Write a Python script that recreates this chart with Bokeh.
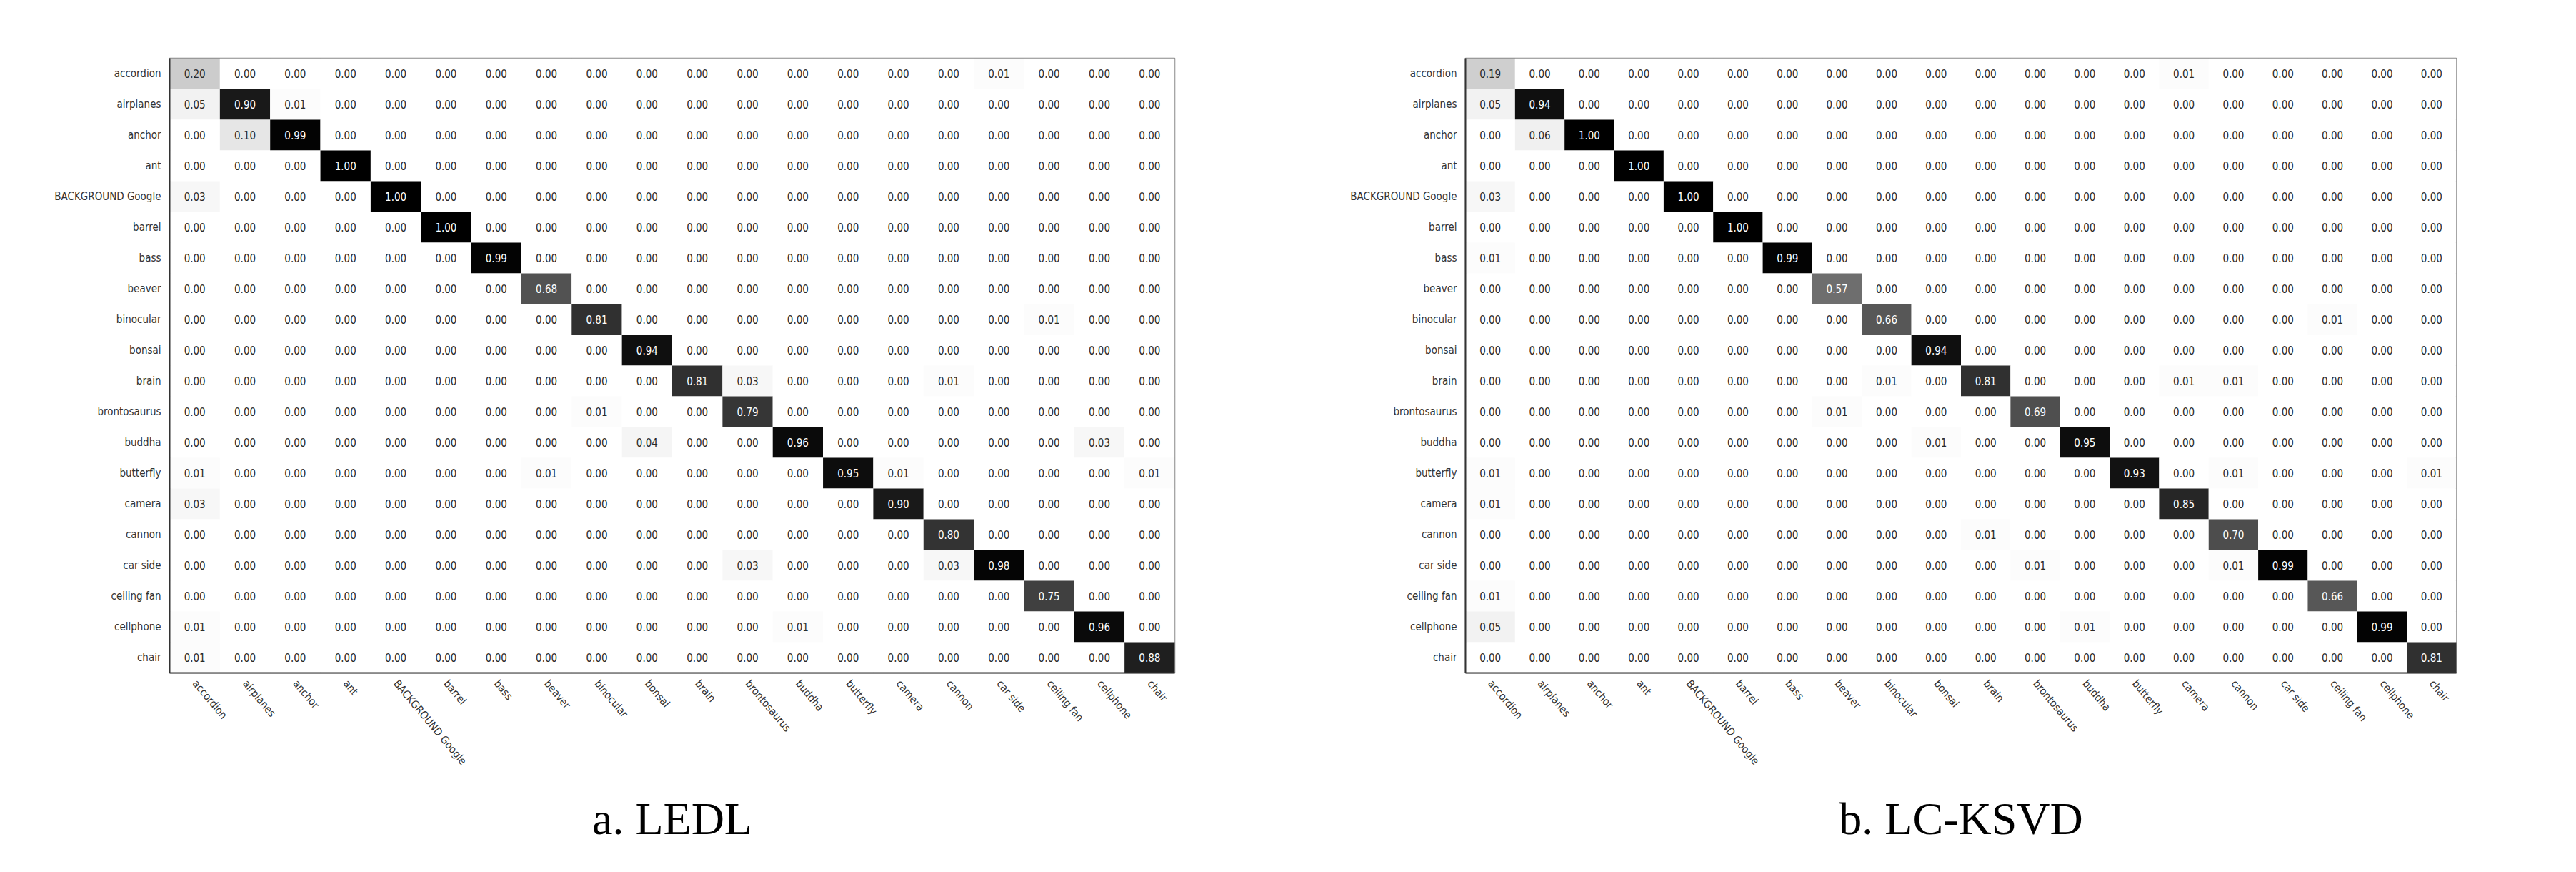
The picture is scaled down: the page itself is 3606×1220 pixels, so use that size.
import math
from bokeh.plotting import figure
from bokeh.models import FactorRange, ColumnDataSource
from bokeh.layouts import row
from bokeh.embed import file_html
from bokeh.resources import INLINE
from bokeh.core.properties import value

classes = ["accordion", "airplanes", "anchor", "ant", "BACKGROUND Google", "barrel",
           "bass", "beaver", "binocular", "bonsai", "brain", "brontosaurus", "buddha",
           "butterfly", "camera", "cannon", "car side", "ceiling fan", "cellphone", "chair"]

# LEDL confusion matrix (rows = true class, cols = predicted)
ledl = [
    [0.20, 0, 0, 0, 0, 0, 0, 0, 0, 0, 0, 0, 0, 0, 0, 0, 0.01, 0, 0, 0],
    [0.05, 0.90, 0.01, 0, 0, 0, 0, 0, 0, 0, 0, 0, 0, 0, 0, 0, 0, 0, 0, 0],
    [0, 0.10, 0.99, 0, 0, 0, 0, 0, 0, 0, 0, 0, 0, 0, 0, 0, 0, 0, 0, 0],
    [0, 0, 0, 1.00, 0, 0, 0, 0, 0, 0, 0, 0, 0, 0, 0, 0, 0, 0, 0, 0],
    [0.03, 0, 0, 0, 1.00, 0, 0, 0, 0, 0, 0, 0, 0, 0, 0, 0, 0, 0, 0, 0],
    [0, 0, 0, 0, 0, 1.00, 0, 0, 0, 0, 0, 0, 0, 0, 0, 0, 0, 0, 0, 0],
    [0, 0, 0, 0, 0, 0, 0.99, 0, 0, 0, 0, 0, 0, 0, 0, 0, 0, 0, 0, 0],
    [0, 0, 0, 0, 0, 0, 0, 0.68, 0, 0, 0, 0, 0, 0, 0, 0, 0, 0, 0, 0],
    [0, 0, 0, 0, 0, 0, 0, 0, 0.81, 0, 0, 0, 0, 0, 0, 0, 0, 0.01, 0, 0],
    [0, 0, 0, 0, 0, 0, 0, 0, 0, 0.94, 0, 0, 0, 0, 0, 0, 0, 0, 0, 0],
    [0, 0, 0, 0, 0, 0, 0, 0, 0, 0, 0.81, 0.03, 0, 0, 0, 0.01, 0, 0, 0, 0],
    [0, 0, 0, 0, 0, 0, 0, 0, 0.01, 0, 0, 0.79, 0, 0, 0, 0, 0, 0, 0, 0],
    [0, 0, 0, 0, 0, 0, 0, 0, 0, 0.04, 0, 0, 0.96, 0, 0, 0, 0, 0, 0.03, 0],
    [0.01, 0, 0, 0, 0, 0, 0, 0.01, 0, 0, 0, 0, 0, 0.95, 0.01, 0, 0, 0, 0, 0.01],
    [0.03, 0, 0, 0, 0, 0, 0, 0, 0, 0, 0, 0, 0, 0, 0.90, 0, 0, 0, 0, 0],
    [0, 0, 0, 0, 0, 0, 0, 0, 0, 0, 0, 0, 0, 0, 0, 0.80, 0, 0, 0, 0],
    [0, 0, 0, 0, 0, 0, 0, 0, 0, 0, 0, 0.03, 0, 0, 0, 0.03, 0.98, 0, 0, 0],
    [0, 0, 0, 0, 0, 0, 0, 0, 0, 0, 0, 0, 0, 0, 0, 0, 0, 0.75, 0, 0],
    [0.01, 0, 0, 0, 0, 0, 0, 0, 0, 0, 0, 0, 0.01, 0, 0, 0, 0, 0, 0.96, 0],
    [0.01, 0, 0, 0, 0, 0, 0, 0, 0, 0, 0, 0, 0, 0, 0, 0, 0, 0, 0, 0.88],
]

# LC-KSVD confusion matrix
lcksvd = [
    [0.19, 0, 0, 0, 0, 0, 0, 0, 0, 0, 0, 0, 0, 0, 0.01, 0, 0, 0, 0, 0],
    [0.05, 0.94, 0, 0, 0, 0, 0, 0, 0, 0, 0, 0, 0, 0, 0, 0, 0, 0, 0, 0],
    [0, 0.06, 1.00, 0, 0, 0, 0, 0, 0, 0, 0, 0, 0, 0, 0, 0, 0, 0, 0, 0],
    [0, 0, 0, 1.00, 0, 0, 0, 0, 0, 0, 0, 0, 0, 0, 0, 0, 0, 0, 0, 0],
    [0.03, 0, 0, 0, 1.00, 0, 0, 0, 0, 0, 0, 0, 0, 0, 0, 0, 0, 0, 0, 0],
    [0, 0, 0, 0, 0, 1.00, 0, 0, 0, 0, 0, 0, 0, 0, 0, 0, 0, 0, 0, 0],
    [0.01, 0, 0, 0, 0, 0, 0.99, 0, 0, 0, 0, 0, 0, 0, 0, 0, 0, 0, 0, 0],
    [0, 0, 0, 0, 0, 0, 0, 0.57, 0, 0, 0, 0, 0, 0, 0, 0, 0, 0, 0, 0],
    [0, 0, 0, 0, 0, 0, 0, 0, 0.66, 0, 0, 0, 0, 0, 0, 0, 0, 0.01, 0, 0],
    [0, 0, 0, 0, 0, 0, 0, 0, 0, 0.94, 0, 0, 0, 0, 0, 0, 0, 0, 0, 0],
    [0, 0, 0, 0, 0, 0, 0, 0, 0.01, 0, 0.81, 0, 0, 0, 0.01, 0.01, 0, 0, 0, 0],
    [0, 0, 0, 0, 0, 0, 0, 0.01, 0, 0, 0, 0.69, 0, 0, 0, 0, 0, 0, 0, 0],
    [0, 0, 0, 0, 0, 0, 0, 0, 0, 0.01, 0, 0, 0.95, 0, 0, 0, 0, 0, 0, 0],
    [0.01, 0, 0, 0, 0, 0, 0, 0, 0, 0, 0, 0, 0, 0.93, 0, 0.01, 0, 0, 0, 0.01],
    [0.01, 0, 0, 0, 0, 0, 0, 0, 0, 0, 0, 0, 0, 0, 0.85, 0, 0, 0, 0, 0],
    [0, 0, 0, 0, 0, 0, 0, 0, 0, 0, 0.01, 0, 0, 0, 0, 0.70, 0, 0, 0, 0],
    [0, 0, 0, 0, 0, 0, 0, 0, 0, 0, 0, 0.01, 0, 0, 0, 0.01, 0.99, 0, 0, 0],
    [0.01, 0, 0, 0, 0, 0, 0, 0, 0, 0, 0, 0, 0, 0, 0, 0, 0, 0.66, 0, 0],
    [0.05, 0, 0, 0, 0, 0, 0, 0, 0, 0, 0, 0, 0.01, 0, 0, 0, 0, 0, 0.99, 0],
    [0, 0, 0, 0, 0, 0, 0, 0, 0, 0, 0, 0, 0, 0, 0, 0, 0, 0, 0, 0.81],
]

captions = ["a. LEDL", "b. LC-KSVD"]

FONT = "'Liberation Sans Narrow', 'Arial Narrow', 'Nimbus Sans Narrow', 'DejaVu Sans Condensed', sans-serif"
SERIF = "'Liberation Serif', 'Times New Roman', serif"


def make(matrix, caption, width, border_left, border_right):
    xs, ys, fills, tcols, texts = [], [], [], [], []
    for i, rname in enumerate(classes):
        for j, cname in enumerate(classes):
            v = matrix[i][j]
            g = int(round(255 * (1 - v)))
            xs.append(cname)
            ys.append(rname)
            fills.append("#%02x%02x%02x" % (g, g, g))
            tcols.append("#ffffff" if v > 0.5 else "#2a2a2a")
            texts.append("%.2f" % v)
    src = ColumnDataSource(dict(x=xs, y=ys, fill=fills, tcol=tcols, text=texts))

    p = figure(width=width, height=1204,
               x_range=FactorRange(*classes),
               y_range=FactorRange(*list(reversed(classes))),
               output_backend="svg", toolbar_location=None,
               min_border_left=border_left, min_border_right=border_right,
               min_border_top=81, min_border_bottom=263)
    p.rect(x="x", y="y", width=1, height=1, source=src,
           fill_color="fill", line_color=None)
    p.text(x="x", y="y", text="text", source=src, text_color="tcol",
           text_align="center", text_baseline="middle",
           text_font=value(FONT), text_font_size="15px")

    p.xgrid.grid_line_color = None
    p.ygrid.grid_line_color = None
    p.outline_line_color = "#888888"
    p.outline_line_width = 1.5

    for ax in (p.xaxis[0], p.yaxis[0]):
        ax.major_tick_line_color = None
        ax.minor_tick_line_color = None
        ax.axis_line_color = "#333333"
        ax.axis_line_width = 2
        ax.major_label_text_font = FONT
        ax.major_label_text_font_size = "15px"
        ax.major_label_text_color = "#333333"
        ax.major_label_standoff = 6

    p.xaxis.major_label_orientation = -math.radians(50)
    p.xaxis.axis_label = caption
    p.xaxis.axis_label_text_font = SERIF
    p.xaxis.axis_label_text_font_size = "64px"
    p.xaxis.axis_label_text_font_style = "normal"
    p.xaxis.axis_label_text_color = "#000000"
    p.xaxis.axis_label_standoff = 28
    return p


p1 = make(ledl, captions[0], 1795, 237, 151)
p2 = make(lcksvd, captions[1], 1795, 256, 152)
layout = row(p1, p2)

open("out.html", "w").write(file_html(layout, INLINE))
